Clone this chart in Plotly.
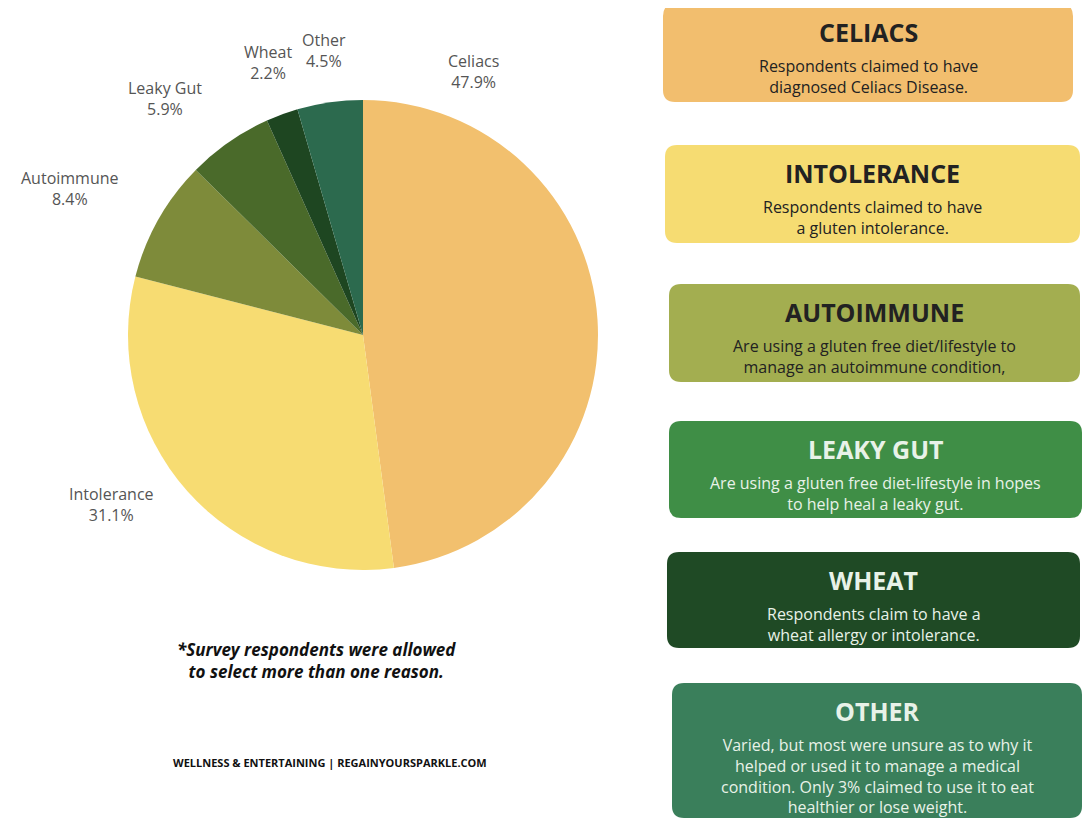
import plotly.graph_objects as go

labels = ["Celiacs", "Intolerance", "Autoimmune", "Leaky Gut", "Wheat", "Other"]
values = [47.9, 31.1, 8.4, 5.9, 2.2, 4.5]
colors = ["#F2C06E", "#F7DC72", "#7E8B3A", "#4A6A2A", "#1E4621", "#2C6A4E"]
label_pos = [(473, 72), (111, 505), (70, 188), (165, 98), (268, 63), (324, 50)]

box_titles = ["CELIACS", "INTOLERANCE", "AUTOIMMUNE", "LEAKY GUT", "WHEAT", "OTHER"]
box_texts = [
    "Respondents claimed to have<br>diagnosed Celiacs Disease.",
    "Respondents claimed to have<br>a gluten intolerance.",
    "Are using a gluten free diet/lifestyle to<br>manage an autoimmune condition,",
    "Are using a gluten free diet-lifestyle in hopes<br>to help heal a leaky gut.",
    "Respondents claim to have a<br>wheat allergy or intolerance.",
    "Varied, but most were unsure as to why it<br>helped or used it to manage a medical<br>condition. Only 3% claimed to use it to eat<br>healthier or lose weight.",
]
box_colors = ["#F2BE6E", "#F6DC72", "#A3AE50", "#3F8E46", "#1F4A25", "#3A7F5B"]
box_text_colors = ["#222", "#222", "#222", "#E8F2E8", "#E8F2E8", "#E8F2E8"]
box_px = [(663, 4, 1073, 102), (665, 145, 1080, 243), (669, 284, 1080, 382),
          (669, 421, 1082, 518), (667, 552, 1080, 648), (672, 683, 1082, 818)]

OFF = 8
W, H = 1084, 816

def px(x, y):
    return (x - OFF) / W, 1 - (y - OFF) / H

(dx0, dy1), (dx1, dy0) = px(363 - 235, 570), px(363 + 235, 100)
fig = go.Figure(go.Pie(
    labels=labels, values=values, sort=False, direction="clockwise", rotation=0,
    marker=dict(colors=colors), textinfo="none",
    domain=dict(x=[dx0, dx1], y=[dy1, dy0]),
    showlegend=False, hoverinfo="label+percent",
))

shapes, annotations = [], []
for lab, v, (lx, ly) in zip(labels, values, label_pos):
    ax, ay = px(lx, ly)
    annotations.append(dict(x=ax, y=ay, xref="paper", yref="paper", showarrow=False,
                            xanchor="center", yanchor="middle",
                            text=f"{lab}<br>{v}%",
                            font=dict(family="Open Sans", size=16, color="#555")))

r = 12
for (x0, y0, x1, y1), c, t, d, tc in zip(box_px, box_colors, box_titles, box_texts, box_text_colors):
    segs = [("M", [(x0+r, y0)]), ("L", [(x1-r, y0)]), ("Q", [(x1, y0), (x1, y0+r)]),
            ("L", [(x1, y1-r)]), ("Q", [(x1, y1), (x1-r, y1)]), ("L", [(x0+r, y1)]),
            ("Q", [(x0, y1), (x0, y1-r)]), ("L", [(x0, y0+r)]), ("Q", [(x0, y0), (x0+r, y0)])]
    res = []
    for cmd, ptsl in segs:
        res.append(cmd)
        for (a, b) in ptsl:
            pa, pb = px(a, b)
            res.append(f"{pa:.5f},{pb:.5f}")
    res.append("Z")
    shapes.append(dict(type="path", path=" ".join(res), xref="paper", yref="paper",
                       fillcolor=c, line=dict(width=0), layer="below"))
    cx = (x0 + x1) / 2
    tx, ty = px(cx, y0 + 28)
    annotations.append(dict(x=tx, y=ty, xref="paper", yref="paper", xanchor="center",
                            text=f"<b>{t}</b>", showarrow=False,
                            font=dict(family="Open Sans", size=25, color=tc), yanchor="middle"))
    tx, ty = px(cx, y0 + 49)
    annotations.append(dict(x=tx, y=ty, xref="paper", yref="paper", xanchor="center",
                            text=d, showarrow=False, yanchor="top",
                            font=dict(family="Open Sans", size=16, color=tc)))

fx, fy = px(316, 685)
annotations.append(dict(x=fx, y=fy, xref="paper", yref="paper", showarrow=False, xanchor="center",
                        text="<b><i>*Survey respondents were allowed<br>to select more than one reason.</i></b>",
                        font=dict(family="Open Sans", size=17, color="#111")))
fx, fy = px(330, 772)
annotations.append(dict(x=fx, y=fy, xref="paper", yref="paper", showarrow=False, xanchor="center",
                        text="<b>WELLNESS &amp; ENTERTAINING | REGAINYOURSPARKLE.COM</b>",
                        font=dict(family="Open Sans", size=11, color="#111")))

fig.update_layout(width=W, height=H, autosize=False, margin=dict(l=0, r=0, t=0, b=0),
                  paper_bgcolor="white", plot_bgcolor="white",
                  shapes=shapes, annotations=annotations)
fig.write_html("out.html")
